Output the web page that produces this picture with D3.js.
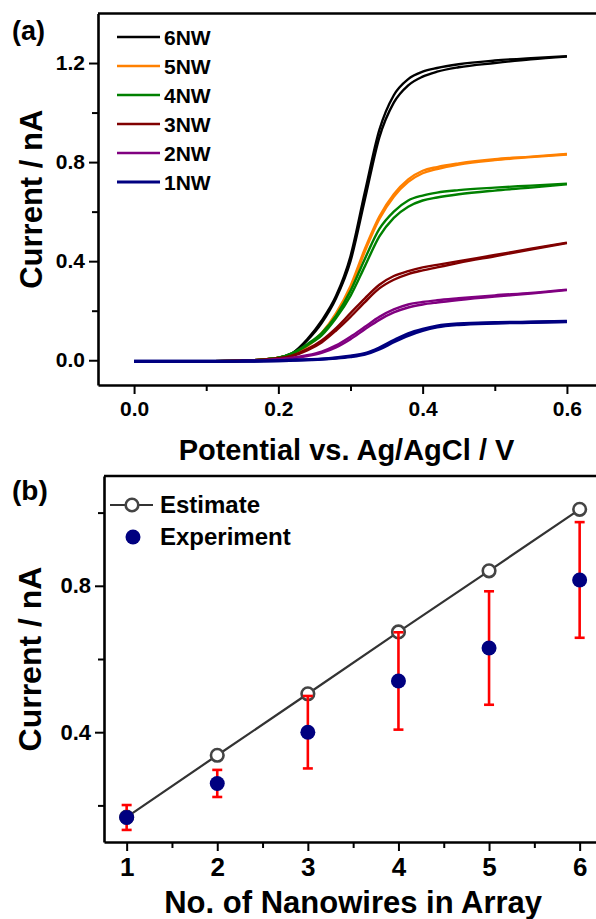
<!DOCTYPE html>
<html>
<head>
<meta charset="utf-8">
<script src="https://cdn.jsdelivr.net/npm/d3@7"></script>
<style>
  html, body { margin: 0; padding: 0; background: #fff; }
  svg { display: block; font-family: "Liberation Sans", Arial, sans-serif; font-weight: bold; }
</style>
</head>
<body>
<div id="chart"></div>
<script>
// ---- panel (a): linear sweep voltammograms ----
const potential = [0, 0.05, 0.10, 0.15, 0.18, 0.20, 0.22, 0.24, 0.26, 0.28, 0.30, 0.32, 0.34, 0.36, 0.38, 0.40, 0.42, 0.45, 0.50, 0.55, 0.60];

const nw6Fwd = [-0.005, -0.005, -0.004, -0.002, 0.003, 0.010, 0.030, 0.085, 0.160, 0.260, 0.420, 0.680, 0.930, 1.070, 1.135, 1.165, 1.180, 1.195, 1.210, 1.220, 1.228];
const nw6Rev = [-0.005, -0.005, -0.004, -0.002, 0.003, 0.010, 0.028, 0.080, 0.150, 0.250, 0.400, 0.650, 0.900, 1.040, 1.110, 1.145, 1.165, 1.183, 1.200, 1.215, 1.226];
const nw5Fwd = [-0.005, -0.005, -0.004, -0.002, 0.003, 0.010, 0.025, 0.060, 0.110, 0.190, 0.300, 0.450, 0.580, 0.670, 0.730, 0.765, 0.780, 0.795, 0.812, 0.822, 0.833];
const nw5Rev = [-0.005, -0.005, -0.004, -0.002, 0.003, 0.010, 0.023, 0.056, 0.105, 0.180, 0.290, 0.440, 0.570, 0.660, 0.720, 0.755, 0.772, 0.790, 0.808, 0.820, 0.831];
const nw4Fwd = [-0.005, -0.005, -0.004, -0.002, 0.003, 0.010, 0.030, 0.065, 0.110, 0.180, 0.280, 0.410, 0.530, 0.600, 0.645, 0.665, 0.677, 0.687, 0.697, 0.705, 0.713];
const nw4Rev = [-0.005, -0.005, -0.004, -0.002, 0.003, 0.010, 0.028, 0.060, 0.100, 0.170, 0.260, 0.380, 0.500, 0.575, 0.620, 0.645, 0.657, 0.670, 0.685, 0.697, 0.710];
const nw3Fwd = [-0.005, -0.005, -0.004, -0.002, 0.002, 0.008, 0.020, 0.045, 0.080, 0.130, 0.190, 0.250, 0.305, 0.340, 0.360, 0.375, 0.385, 0.400, 0.425, 0.450, 0.475];
const nw3Rev = [-0.005, -0.005, -0.004, -0.002, 0.002, 0.007, 0.018, 0.040, 0.072, 0.120, 0.175, 0.235, 0.290, 0.325, 0.348, 0.363, 0.375, 0.393, 0.420, 0.447, 0.473];
const nw2Fwd = [-0.005, -0.005, -0.004, -0.003, 0.000, 0.004, 0.010, 0.020, 0.035, 0.060, 0.095, 0.135, 0.175, 0.205, 0.225, 0.235, 0.242, 0.250, 0.262, 0.272, 0.285];
const nw2Rev = [-0.005, -0.005, -0.004, -0.003, 0.000, 0.003, 0.008, 0.017, 0.030, 0.052, 0.085, 0.125, 0.163, 0.193, 0.213, 0.225, 0.233, 0.243, 0.257, 0.269, 0.283];
const nw1Fwd = [-0.005, -0.005, -0.005, -0.004, -0.003, -0.002, 0.000, 0.002, 0.005, 0.010, 0.017, 0.027, 0.050, 0.080, 0.107, 0.125, 0.138, 0.147, 0.152, 0.154, 0.157];
const nw1Rev = [-0.005, -0.005, -0.005, -0.004, -0.003, -0.002, 0.000, 0.002, 0.004, 0.008, 0.014, 0.024, 0.045, 0.074, 0.100, 0.120, 0.134, 0.144, 0.150, 0.153, 0.156];

const seriesNames = ["6NW", "5NW", "4NW", "3NW", "2NW", "1NW"];
const seriesColors = ["#000000", "#ff8000", "#008000", "#800000", "#800080", "#000080"];
const seriesData = [[nw6Fwd, nw6Rev], [nw5Fwd, nw5Rev], [nw4Fwd, nw4Rev], [nw3Fwd, nw3Rev], [nw2Fwd, nw2Rev], [nw1Fwd, nw1Rev]];

const xTicksA = [0, 0.2, 0.4, 0.6];
const xMinorA = [0.1, 0.3, 0.5];
const yTicksA = [0, 0.4, 0.8, 1.2];
const yMinorA = [0.2, 0.6, 1.0];

// ---- panel (b): current vs number of nanowires ----
const wireCount = [1, 2, 3, 4, 5, 6];
const estimate = [0.168, 0.337, 0.505, 0.674, 0.841, 1.009];
const experiment = [0.167, 0.260, 0.400, 0.540, 0.630, 0.816];
const expError = [0.034, 0.037, 0.099, 0.133, 0.155, 0.158];

const xTicksB = [1, 2, 3, 4, 5, 6];
const xMinorB = [1.5, 2.5, 3.5, 4.5, 5.5];
const yTicksB = [0.4, 0.8];
const yMinorB = [0.2, 0.6, 1.0];

const width = 596, height = 919;
const svg = d3.select("#chart").append("svg")
  .attr("width", width).attr("height", height);

// helper: axis with major + minor ticks, outward
function drawAxis(g, axisFn, scale, major, minor, fmt, fontSize, pad) {
  const ax = axisFn(scale).tickValues(major).tickSize(9).tickSizeOuter(0)
    .tickPadding(pad).tickFormat(fmt);
  g.call(ax);
  const minorAx = axisFn(scale).tickValues(minor).tickSize(6).tickSizeOuter(0).tickFormat("");
  g.append("g").call(minorAx).select(".domain").remove();
  g.selectAll("path.domain").attr("stroke", "#000").attr("stroke-width", 2.6);
  g.selectAll(".tick line").attr("stroke", "#000").attr("stroke-width", 2);
  g.selectAll(".tick text").attr("fill", "#000")
    .style("font-size", fontSize + "px").style("font-weight", "bold")
    .style("font-family", "'Liberation Sans', Arial, sans-serif");
}

// ================= panel (a) =================
const xA = d3.scaleLinear().domain([-0.05, 0.65]).range([98, 603]);
const yA = d3.scaleLinear().domain([-0.1, 1.4]).range([385, 13.5]);

const gA = svg.append("g");

const lineA = d3.line()
  .x(d => xA(d[0]))
  .y(d => yA(d[1]))
  .curve(d3.curveMonotoneX);

seriesData.forEach((branches, i) => {
  branches.forEach(vals => {
    gA.append("path")
      .datum(potential.map((p, k) => [p, vals[k]]))
      .attr("fill", "none")
      .attr("stroke", seriesColors[i])
      .attr("stroke-width", i === 5 ? 3.2 : 2.4)
      .attr("d", lineA);
  });
});

drawAxis(gA.append("g").attr("transform", `translate(0,${yA.range()[0]})`),
  d3.axisBottom, xA, xTicksA, xMinorA, d3.format(".1f"), 21, 7);
drawAxis(gA.append("g").attr("transform", `translate(${xA.range()[0]},0)`),
  d3.axisLeft, yA, yTicksA, yMinorA, d3.format(".1f"), 21, 4);

// top frame
gA.append("line")
  .attr("x1", xA.range()[0]).attr("x2", xA.range()[1])
  .attr("y1", yA.range()[1]).attr("y2", yA.range()[1])
  .attr("stroke", "#000").attr("stroke-width", 2.6);

// legend (a)
const legA = gA.append("g");
seriesNames.forEach((name, i) => {
  const y = 37 + i * 29;
  legA.append("line")
    .attr("x1", 117).attr("x2", 160).attr("y1", y).attr("y2", y)
    .attr("stroke", seriesColors[i]).attr("stroke-width", i === 5 ? 3.2 : 2.6);
  legA.append("text")
    .attr("x", 164).attr("y", y + 7.5)
    .style("font-size", "21px")
    .text(name);
});

gA.append("text").attr("x", 12).attr("y", 40).style("font-size", "27px").text("(a)");

gA.append("text")
  .attr("x", (xA(0) + xA(0.6)) / 2 - 4).attr("y", 460)
  .attr("text-anchor", "middle")
  .style("font-size", "29px")
  .text("Potential vs. Ag/AgCl / V");

gA.append("text")
  .attr("transform", `translate(42,${(yA.range()[0] + yA.range()[1]) / 2}) rotate(-90)`)
  .attr("text-anchor", "middle")
  .style("font-size", "31px")
  .text("Current / nA");

// ================= panel (b) =================
const xB = d3.scaleLinear().domain([0.75, 6.25]).range([104, 602.3]);
const yB = d3.scaleLinear().domain([0.1, 1.1]).range([842, 476]);

const gB = svg.append("g");

const lineB = d3.line().x((d, i) => xB(wireCount[i])).y(d => yB(d));
gB.append("path")
  .datum(estimate)
  .attr("fill", "none").attr("stroke", "#333").attr("stroke-width", 2.2)
  .attr("d", lineB);

gB.selectAll("circle.est")
  .data(estimate).enter().append("circle")
  .attr("class", "est")
  .attr("cx", (d, i) => xB(wireCount[i]))
  .attr("cy", d => yB(d))
  .attr("r", 6.3)
  .attr("fill", "#fff").attr("stroke", "#444").attr("stroke-width", 2.6);

// error bars
const errG = gB.append("g").attr("stroke", "#ff0000").attr("stroke-width", 2.6);
experiment.forEach((v, i) => {
  const cx = xB(wireCount[i]);
  const top = yB(v + expError[i]), bot = yB(v - expError[i]);
  errG.append("line").attr("x1", cx).attr("x2", cx).attr("y1", top).attr("y2", bot);
  errG.append("line").attr("x1", cx - 5).attr("x2", cx + 5).attr("y1", top).attr("y2", top);
  errG.append("line").attr("x1", cx - 5).attr("x2", cx + 5).attr("y1", bot).attr("y2", bot);
});

gB.selectAll("circle.exp")
  .data(experiment).enter().append("circle")
  .attr("class", "exp")
  .attr("cx", (d, i) => xB(wireCount[i]))
  .attr("cy", d => yB(d))
  .attr("r", 7.5)
  .attr("fill", "#000080");

drawAxis(gB.append("g").attr("transform", `translate(0,${yB.range()[0]})`),
  d3.axisBottom, xB, xTicksB, xMinorB, d3.format("d"), 26, 7);
drawAxis(gB.append("g").attr("transform", `translate(${xB.range()[0]},0)`),
  d3.axisLeft, yB, yTicksB, yMinorB, d3.format(".1f"), 22, 4);

gB.append("line")
  .attr("x1", xB.range()[0]).attr("x2", xB.range()[1])
  .attr("y1", yB.range()[1]).attr("y2", yB.range()[1])
  .attr("stroke", "#000").attr("stroke-width", 2.6);

// legend (b)
const legB = gB.append("g");
legB.append("line").attr("x1", 110).attr("x2", 153).attr("y1", 505).attr("y2", 505)
  .attr("stroke", "#333").attr("stroke-width", 2.2);
legB.append("circle").attr("cx", 132).attr("cy", 505).attr("r", 6.3)
  .attr("fill", "#fff").attr("stroke", "#444").attr("stroke-width", 2.6);
legB.append("text").attr("x", 160).attr("y", 513).style("font-size", "24px").text("Estimate");
legB.append("circle").attr("cx", 133).attr("cy", 537).attr("r", 7.5).attr("fill", "#000080");
legB.append("text").attr("x", 160).attr("y", 545).style("font-size", "24px").text("Experiment");

gB.append("text").attr("x", 12).attr("y", 500).style("font-size", "28px").text("(b)");

gB.append("text")
  .attr("x", (xB(1) + xB(6)) / 2).attr("y", 913)
  .attr("text-anchor", "middle")
  .style("font-size", "31px")
  .text("No. of Nanowires in Array");

gB.append("text")
  .attr("transform", `translate(41,${(yB.range()[0] + yB.range()[1]) / 2}) rotate(-90)`)
  .attr("text-anchor", "middle")
  .style("font-size", "32px")
  .text("Current / nA");
</script>
</body>
</html>
